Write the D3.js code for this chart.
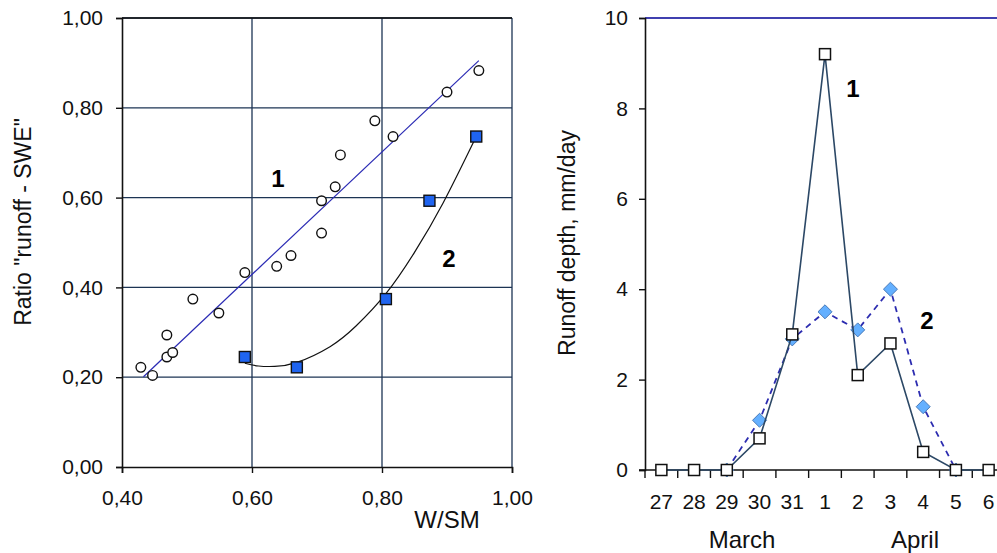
<!DOCTYPE html>
<html>
<head>
<meta charset="utf-8">
<script src="https://cdn.jsdelivr.net/npm/d3@7"></script>
<style>
  body { margin: 0; background: #fff; }
  svg { display: block; font-family: "Liberation Sans", Arial, sans-serif; }
</style>
</head>
<body>
<svg id="chart" width="997" height="553"></svg>
<script>
// left panel: ratio "runoff - SWE" vs W/SM
const ws1 = [0.949, 0.900, 0.789, 0.817, 0.736, 0.728, 0.707, 0.707, 0.660, 0.638, 0.589, 0.509, 0.549, 0.469, 0.469, 0.478, 0.429, 0.447];
const ratio1 = [0.883, 0.835, 0.771, 0.736, 0.695, 0.624, 0.593, 0.521, 0.471, 0.447, 0.433, 0.374, 0.343, 0.294, 0.245, 0.255, 0.222, 0.204];
const ws2 = [0.589, 0.669, 0.806, 0.873, 0.945];
const ratio2 = [0.245, 0.222, 0.374, 0.593, 0.736];
// trend lines
const trend1 = [[0.433, 0.201], [0.949, 0.905]];
const trend2 = [[0.589, 0.231], [0.61, 0.225], [0.635, 0.224], [0.669, 0.233], [0.72, 0.268],
                [0.76, 0.314], [0.806, 0.386], [0.85, 0.478], [0.894, 0.588], [0.945, 0.736]];
const xTicksL = [0.4, 0.6, 0.8, 1.0];
const yTicksL = [0, 0.2, 0.4, 0.6, 0.8, 1.0];

// right panel: daily runoff depth
const days = ["27", "28", "29", "30", "31", "1", "2", "3", "4", "5", "6"];
const runoff1 = [0, 0, 0, 0.7, 3.0, 9.2, 2.1, 2.8, 0.4, 0, 0];
const runoff2 = [null, null, 0, 1.1, 2.9, 3.5, 3.1, 4.0, 1.4, 0, null];
const yTicksR = [0, 2, 4, 6, 8, 10];

const svg = d3.select('#chart');
const comma = (f) => (d) => d3.format(f)(d).replace('.', ',');
const gridCol = '#1c3454';

// ---------- left panel ----------
const xL = d3.scaleLinear().domain([0.4, 1.0]).range([122, 512]);
const yL = d3.scaleLinear().domain([0, 1.0]).range([467, 18]);
const L = svg.append('g');

// grid
L.selectAll('.hg').data(yTicksL.slice(1)).enter().append('line')
  .attr('x1', xL(0.4)).attr('x2', xL(1.0))
  .attr('y1', (d) => yL(d)).attr('y2', (d) => yL(d))
  .attr('stroke', gridCol).attr('stroke-width', 1.3);
L.selectAll('.vg').data(xTicksL.slice(1)).enter().append('line')
  .attr('y1', yL(0)).attr('y2', yL(1.0))
  .attr('x1', (d) => xL(d)).attr('x2', (d) => xL(d))
  .attr('stroke', gridCol).attr('stroke-width', 1.3);

const axL = L.append('g').attr('transform', `translate(${xL(0.4)},0)`)
  .call(d3.axisLeft(yL).tickValues(yTicksL).tickSize(6).tickPadding(13).tickFormat(comma('.2f')));
const axB = L.append('g').attr('transform', `translate(0,${yL(0)})`)
  .call(d3.axisBottom(xL).tickValues(xTicksL).tickSize(6).tickPadding(17).tickFormat(comma('.2f')));
[axL, axB].forEach((a) => {
  a.select('.domain').attr('stroke', '#111').attr('stroke-width', 1.6);
  a.selectAll('.tick line').attr('stroke', '#111').attr('stroke-width', 1.4);
  a.selectAll('text').attr('font-size', 21).attr('fill', '#111');
});

L.append('line').attr('x1', xL(0.4)).attr('x2', xL(1.0)).attr('y1', yL(1)).attr('y2', yL(1))
  .attr('stroke', '#111').attr('stroke-width', 1.6);

L.append('path').datum(trend1)
  .attr('d', d3.line().x((d) => xL(d[0])).y((d) => yL(d[1])))
  .attr('fill', 'none').attr('stroke', '#2a2ab4').attr('stroke-width', 1.2);
L.append('path').datum(trend2)
  .attr('d', d3.line().curve(d3.curveNatural).x((d) => xL(d[0])).y((d) => yL(d[1])))
  .attr('fill', 'none').attr('stroke', '#111').attr('stroke-width', 1.2);

L.selectAll('.c1').data(ws1).enter().append('circle')
  .attr('cx', (d) => xL(d)).attr('cy', (d, i) => yL(ratio1[i])).attr('r', 4.8)
  .attr('fill', '#fff').attr('stroke', '#111').attr('stroke-width', 1.4);
L.selectAll('.s2').data(ws2).enter().append('rect')
  .attr('x', (d) => xL(d) - 5.5).attr('y', (d, i) => yL(ratio2[i]) - 5.5)
  .attr('width', 11).attr('height', 11)
  .attr('fill', '#1f64f0').attr('stroke', '#111').attr('stroke-width', 1.4);

L.append('text').attr('x', 278).attr('y', 187).attr('text-anchor', 'middle')
  .attr('font-size', 24).attr('font-weight', 'bold').text('1');
L.append('text').attr('x', 449).attr('y', 267).attr('text-anchor', 'middle')
  .attr('font-size', 24).attr('font-weight', 'bold').text('2');

L.append('text').attr('transform', 'translate(31,222) rotate(-90)').attr('text-anchor', 'middle')
  .attr('font-size', 23).attr('fill', '#111').text('Ratio "runoff - SWE"');
L.append('text').attr('x', 447).attr('y', 528).attr('text-anchor', 'middle')
  .attr('font-size', 24).attr('fill', '#111').text('W/SM');

// ---------- right panel ----------
const xR = d3.scaleBand().domain(days).range([645, 1005]);
const yR = d3.scaleLinear().domain([0, 10]).range([470, 18]);
const cx = (d) => xR(d) + xR.bandwidth() / 2;
const R = svg.append('g');

R.append('line').attr('x1', 645).attr('x2', 997).attr('y1', yR(10)).attr('y2', yR(10))
  .attr('stroke', '#4040b0').attr('stroke-width', 2);

const axR = R.append('g').attr('transform', 'translate(645,0)')
  .call(d3.axisLeft(yR).tickValues(yTicksR).tickSize(6).tickPadding(11));
axR.select('.domain').attr('stroke', '#111').attr('stroke-width', 1.6);
axR.selectAll('.tick line').attr('stroke', '#111').attr('stroke-width', 1.4);
axR.selectAll('text').attr('font-size', 21).attr('fill', '#111');

const axRB = R.append('g').attr('transform', `translate(0,${yR(0)})`)
  .call(d3.axisBottom(xR).tickSize(0).tickPadding(24));
axRB.select('.domain').remove();
axRB.selectAll('text').attr('font-size', 21).attr('fill', '#111');
R.append('line').attr('x1', 639).attr('x2', 997).attr('y1', yR(0)).attr('y2', yR(0))
  .attr('stroke', '#111').attr('stroke-width', 1.6);
R.selectAll('.bt').data(days).enter().append('line')
  .attr('x1', (d) => xR(d)).attr('x2', (d) => xR(d))
  .attr('y1', yR(0)).attr('y2', yR(0) + 8)
  .attr('stroke', '#111').attr('stroke-width', 1.4);

const pts2 = days.map((d, i) => [d, runoff2[i]]).filter((p) => p[1] !== null);
const pts1 = days.map((d, i) => [d, runoff1[i]]);

R.append('path').datum(pts2)
  .attr('d', d3.line().x((p) => cx(p[0])).y((p) => yR(p[1])))
  .attr('fill', 'none').attr('stroke', '#2c2cb0').attr('stroke-width', 1.8)
  .attr('stroke-dasharray', '6,5');
R.selectAll('.dm').data(pts2).enter().append('path')
  .attr('d', d3.symbol(d3.symbolDiamond2, 125))
  .attr('transform', (p) => `translate(${cx(p[0])},${yR(p[1])})`)
  .attr('fill', '#64b0ff').attr('stroke', '#4a7ab8').attr('stroke-width', 1);

R.append('path').datum(pts1)
  .attr('d', d3.line().x((p) => cx(p[0])).y((p) => yR(p[1])))
  .attr('fill', 'none').attr('stroke', '#2c4866').attr('stroke-width', 1.6);
R.selectAll('.sq').data(pts1).enter().append('rect')
  .attr('x', (p) => cx(p[0]) - 5.5).attr('y', (p) => yR(p[1]) - 5.5)
  .attr('width', 11).attr('height', 11)
  .attr('fill', '#fff').attr('stroke', '#111').attr('stroke-width', 1.5);

R.append('text').attr('x', 853).attr('y', 97).attr('text-anchor', 'middle')
  .attr('font-size', 24).attr('font-weight', 'bold').text('1');
R.append('text').attr('x', 927).attr('y', 329).attr('text-anchor', 'middle')
  .attr('font-size', 24).attr('font-weight', 'bold').text('2');

R.append('text').attr('transform', 'translate(575,243) rotate(-90)').attr('text-anchor', 'middle')
  .attr('font-size', 23).attr('fill', '#111').text('Runoff depth, mm/day');
R.append('text').attr('x', 742).attr('y', 548).attr('text-anchor', 'middle')
  .attr('font-size', 24).attr('fill', '#111').text('March');
R.append('text').attr('x', 915).attr('y', 548).attr('text-anchor', 'middle')
  .attr('font-size', 24).attr('fill', '#111').text('April');
</script>
</body>
</html>
